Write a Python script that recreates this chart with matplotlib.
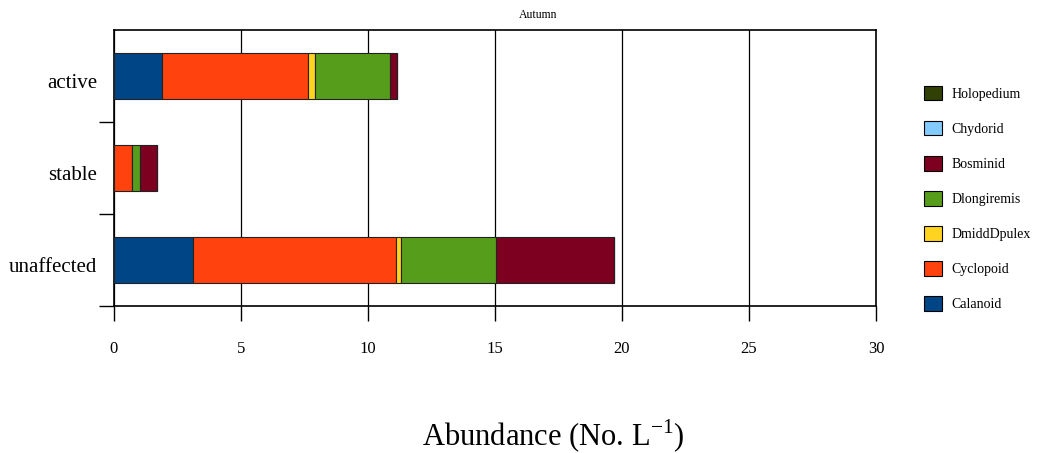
import numpy as np
import matplotlib
matplotlib.use("Agg")
import matplotlib.pyplot as plt
from matplotlib.patches import Patch

plt.rcParams['font.family'] = ['Liberation Serif', 'DejaVu Serif']

sites = ["unaffected", "stable", "active"]
taxa = ["Calanoid", "Cyclopoid", "DmiddDpulex", "Dlongiremis", "Bosminid", "Chydorid", "Holopedium"]
colors = ["#004586", "#ff420e", "#ffd320", "#579d1c", "#7e0021", "#83caff", "#314004"]

# abondances par site (unaffected, stable, active)
calanoid = [3.12, 0.0, 1.89]
cyclopoid = [7.98, 0.71, 5.76]
dmidd_dpulex = [0.20, 0.0, 0.28]
dlongiremis = [3.73, 0.33, 2.94]
bosminid = [4.67, 0.64, 0.28]
chydorid = [0.0, 0.0, 0.0]
holopedium = [0.0, 0.0, 0.0]

values = [calanoid, cyclopoid, dmidd_dpulex, dlongiremis, bosminid, chydorid, holopedium]

fig = plt.figure(figsize=(10.37, 4.53), dpi=100)
ax = fig.add_axes([114 / 1037, 1 - 306 / 453, (876 - 114) / 1037, (306 - 30) / 453])

ypos = np.arange(len(sites))
left = np.zeros(len(sites))
for name, vals, col in zip(taxa, values, colors):
    vals = np.array(vals)
    ax.barh(ypos, vals, left=left, height=0.5, color=col, edgecolor="#222222",
            linewidth=0.8, zorder=3)
    left += vals

ax.set_xlim(0, 30)
ax.set_ylim(-0.5, 2.5)
ax.set_xticks(np.arange(0, 31, 5))
ax.set_yticks(ypos - 0.05)
ax.set_yticklabels(sites, fontsize=15)
ax.set_yticks([-0.5, 0.5, 1.5], minor=True)
ax.tick_params(axis="y", which="major", length=0, pad=12)
ax.tick_params(axis="y", which="minor", length=11, width=1, direction="out")
ax.tick_params(axis="x", length=11, width=1, direction="out", pad=14, labelsize=12)
ax.grid(axis="x", color="black", linewidth=0.9, zorder=0)
for s in ax.spines.values():
    s.set_linewidth(1.2)

fig.text(538 / 1037, 1 - 15 / 453, "Autumn", ha="center", va="center", fontsize=8.5)
fig.text(553 / 1037, 1 - 436 / 453, r"Abundance (No. L$^{\mathregular{-1}}$)",
         ha="center", va="center", fontsize=22)

handles = [Patch(facecolor=c, edgecolor="black", linewidth=0.8) for c in colors]
leg = fig.legend(handles[::-1], taxa[::-1], loc="upper left",
                 bbox_to_anchor=(918 / 1037, 1 - 80 / 453), frameon=False,
                 fontsize=10, handlelength=1.3, handleheight=1.25,
                 labelspacing=1.45, handletextpad=0.7, borderaxespad=0)

fig.savefig("out.png", dpi=100)
